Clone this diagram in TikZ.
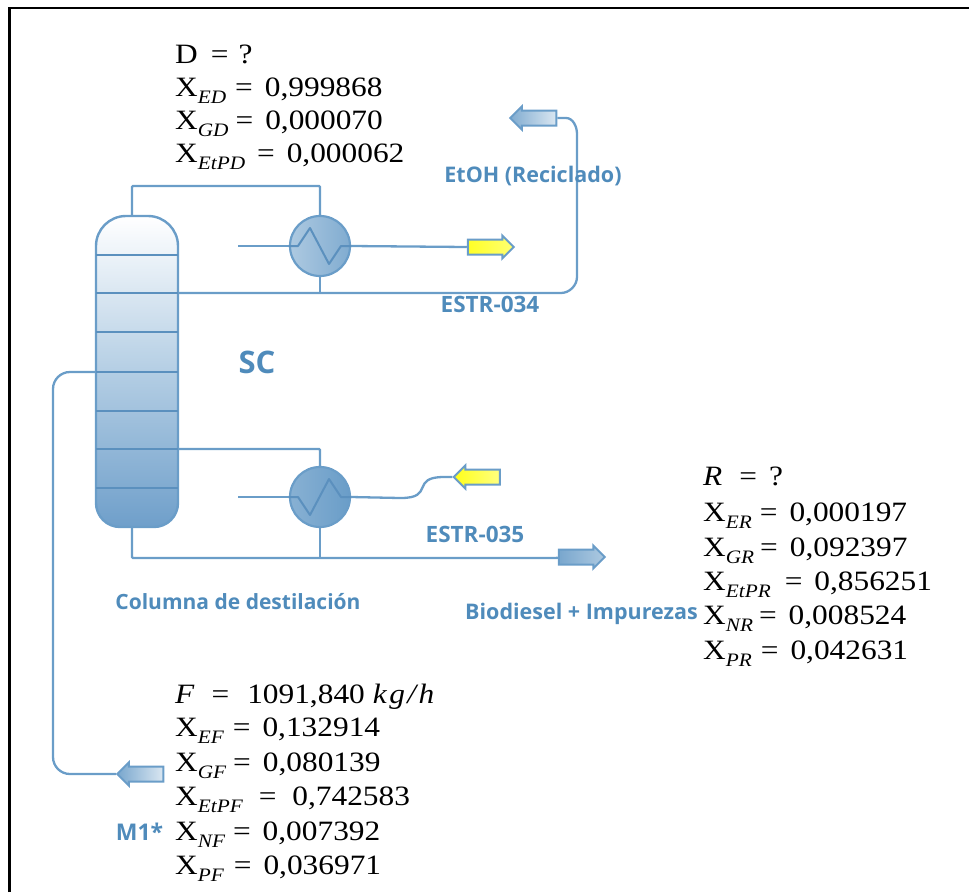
\documentclass[tikz,border=0pt]{standalone}
\usepackage{fontspec}
\setmainfont{Liberation Serif}
\newfontfamily\eqfont[FakeStretch=1.12]{Liberation Serif}
\newfontfamily\lblfont{Open Sans}
\usetikzlibrary{shapes.arrows,calc}
\definecolor{pipe}{HTML}{6A9DC8}
\definecolor{pipedark}{HTML}{5B90BE}
\definecolor{lbl}{HTML}{4F8BBB}
\definecolor{colbottom}{HTML}{6F9FCA}
\definecolor{colmiddle}{HTML}{B4CEE4}
\newcommand{\Xs}[1]{X\raisebox{-0.28em}{\fontsize{19}{19}\selectfont\itshape #1}}
\newcommand{\EQ}[1][0]{\hspace{\dimexpr12pt-#1pt\relax}=\hspace{12pt}}
\tikzset{
  x=1pt,y=-1pt,
  pipeline/.style={draw=pipe,line width=2.3pt,rounded corners=1pt},
  tray/.style={draw=pipedark,line width=2.2pt},
  hx/.style={circle,draw=pipe,line width=2.2pt,minimum size=60pt,inner sep=0pt},
  flow/.style={single arrow,draw=pipe,line width=2pt,minimum height=46pt,text height=6.5pt,text depth=6.5pt,
    single arrow head extend=4pt,inner sep=0pt},
  eq/.style={anchor=base west,inner sep=0pt,font=\eqfont\fontsize{28}{28}\selectfont,text=black},
  lab/.style={inner sep=0pt,text=lbl,font=\lblfont\bfseries\fontsize{#1}{#1}\selectfont},
}
\begin{document}
\begin{tikzpicture}
\useasboundingbox (0,0) rectangle (969,892);
% frame
\draw[black,line width=2.8pt] (9.5,892) -- (9.5,8) -- (969,8);
% column body
\path[draw=pipe,line width=2.4pt,top color=white,bottom color=colbottom,middle color=colmiddle]
  (96,400) [rounded corners=30pt] -- (96,216) -- (178,216) -- (178,400) [rounded corners=24pt] -- (178,527) -- (96,527) -- (96,400) [sharp corners] -- cycle;
\foreach \yy in {255,293,332,372,411,449,488} \draw[tray] (96,\yy) -- (178,\yy);
% named points
\coordinate (coltop) at (132,216);
\coordinate (colbot) at (132,527);
\coordinate (overhead) at (178,293);
\coordinate (sidedraw) at (178,449);
\coordinate (feedin) at (96,372);
\coordinate (ctail) at (238,246);
\coordinate (rtail) at (238,497);
% exchangers
\node[hx,left color=pipe!55,right color=pipe!85] (cond) at (320,246) {};
\node[hx,left color=pipe!80,right color=pipe!100!black] (reb) at (320,497) {};
% stream ends
\node[flow,shape border rotate=180,left color=pipe!85,right color=pipe!25] (recy) at (537,118) {};
\node[flow,left color=yellow!85!white,right color=yellow!55!white] (yout) at (487,247) {};
\node[flow,shape border rotate=180,left color=yellow!90,right color=yellow!50!white] (yin) at (480.5,477) {};
\node[flow,left color=pipe!90,right color=pipe!55] (bio) at (578,557) {};
\node[flow,shape border rotate=180,left color=pipe!90,right color=pipe!25] (feed) at (144,774) {};
% pipes
\draw[pipeline] (coltop) -- (132,186) -- (320,186) -- (cond.north);
\draw[pipeline] (colbot) -- (132,558) -- (558,558) -- (bio.tail);
\draw[pipeline] (ctail) -- (cond.west);
\draw[pipeline] (cond.east) -- (yout.tail);
\draw[pipeline] (rtail) -- (reb.west);
\draw[pipeline] (reb.east) -- (400,498) .. controls (435,498) and (410,477) .. (445,477) -- (yin.tip);
\draw[pipeline] (overhead) -- (560,293) to[out=0,in=-90] (577,276) -- (577,135) to[out=90,in=0] (565,118) -- (recy.tail);
\draw[pipeline] (cond.south) -- (320,293);
\draw[pipeline] (sidedraw) -- (320,449) -- (reb.north);
\draw[pipeline] (reb.south) -- (320,558);
\draw[pipeline,rounded corners=0pt] (feedin) -- (70,372) to[out=180,in=90] (53,389) -- (53,757) to[out=-90,in=180] (70,774) -- (feed.tip);
% zigzags
\draw[draw=pipedark,line width=2pt,line join=round] (cond.west) -- (298,246) -- (310,228) -- (329,264) -- (341,246) -- (cond.east);
\draw[draw=pipedark,line width=2pt,line join=round] (reb.west) -- (298,497) -- (310,515) -- (329,479) -- (341,497) -- (reb.east);
% labels
\node[lab=21.5] (l1) at (533,176) {EtOH (Reciclado)};
\node[lab=22.5] (l2) at (490,304) {ESTR-034};
\node[lab=31] (l3) at (257,362) {SC};
\node[lab=22.5] (l4) at (475,534) {ESTR-035};
\node[lab=21] (l5) at (238,602) {Columna de destilación};
\node[lab=21.5] (l6) at (581.5,614) {Biodiesel + Impurezas};
\node[lab=23] (l7) at (139.5,832) {M1*};
% top block
\node[eq] (d0) at (175,63) {D\hspace{1pt}\EQ\hspace{-2pt}?};
\node[eq] (d1) at (175,96) {\Xs{ED}\EQ[3]0,999868};
\node[eq] (d2) at (175,129) {\Xs{GD}\EQ[5]0,000070};
\node[eq] (d3) at (175,162) {\Xs{EtPD}\EQ 0,000062};
% right block
\node[eq] (r0) at (703,485) {\textit{R}\hspace{5pt}\EQ ?};
\node[eq] (r1) at (703,521) {\Xs{ER}\EQ[4]0,000197};
\node[eq] (r2) at (703,556) {\Xs{GR}\EQ[6]0,092397};
\node[eq] (r3) at (703,590) {\Xs{EtPR}\EQ[-2]0,856251};
\node[eq] (r4) at (703,624) {\Xs{NR}\EQ[6]0,008524};
\node[eq] (r5) at (703,659) {\Xs{PR}\EQ[3]0,042631};
% feed block
\node[eq] (f0) at (175,703) {\textit{F}\hspace{5pt}\EQ \hspace{6pt}1091,840\hspace{8pt}\textit{k\hspace{2.5pt}g\hspace{2.5pt}/\hspace{2.5pt}h}};
\node[eq] (f1) at (175,736) {\Xs{EF}\EQ[3]0,132914};
\node[eq] (f2) at (175,771) {\Xs{GF}\EQ[5]0,080139};
\node[eq] (f3) at (175,805) {\Xs{EtPF}\EQ[-4]\hspace{4pt}0,742583};
\node[eq] (f4) at (175,840) {\Xs{NF}\EQ[4]0,007392};
\node[eq] (f5) at (175,874) {\Xs{PF}\EQ[2]0,036971};
\end{tikzpicture}
\end{document}
